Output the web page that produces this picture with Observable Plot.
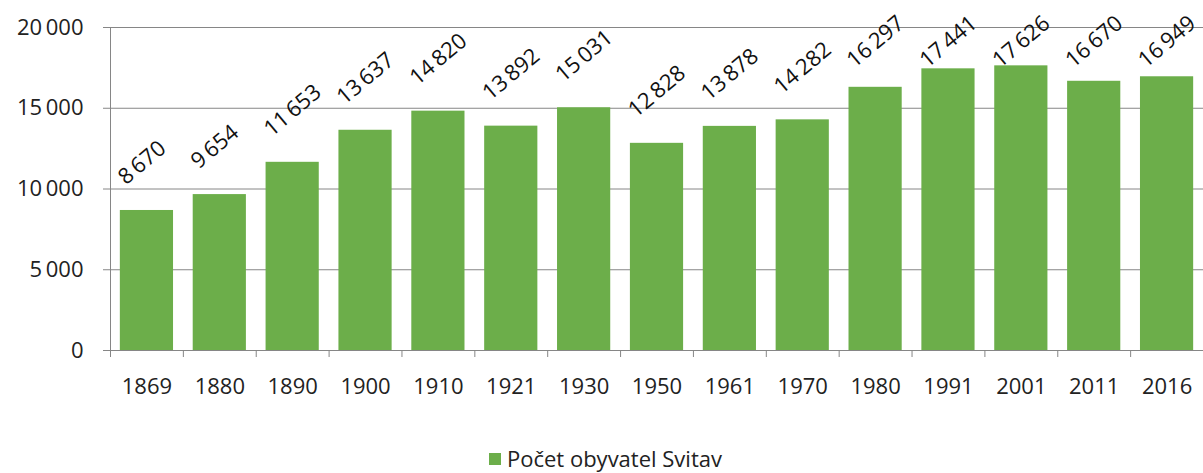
<!DOCTYPE html>
<html>
<head>
<meta charset="utf-8">
<script src="https://cdn.jsdelivr.net/npm/d3@7"></script>
<script src="https://cdn.jsdelivr.net/npm/@observablehq/plot@0.6"></script>
<style>
  body { margin: 0; background: #fff; font-family: "Open Sans", sans-serif; }
  #chart svg { display: block; }
  #legend { display: flex; justify-content: center; align-items: center; gap: 6px; font-size: 22px; color: #222; height: 43px; padding-top: 6px; margin-left: 8px; }
  #legend .sw { width: 12px; height: 12px; background: #6cae4a; display: inline-block; margin-top: 2px; }
</style>
</head>
<body>
<div id="chart"></div>
<div id="legend"><span class="sw"></span><span>Počet obyvatel Svitav</span></div>
<script>
const years = ["1869","1880","1890","1900","1910","1921","1930","1950","1961","1970","1980","1991","2001","2011","2016"];
const population = [8670, 9654, 11653, 13637, 14820, 13892, 15031, 12828, 13878, 14282, 16297, 17441, 17626, 16670, 16949];
const yTicks = [0, 5000, 10000, 15000, 20000];
const seriesName = "Počet obyvatel Svitav";

// label anchor: a little above each bar, but kept inside the chart area near the top
const labelGap = 1550;   // in value units
const labelCap = 17460;  // highest label anchor (value units)
const data = years.map((y, i) => ({year: y, value: population[i], labelAt: Math.min(population[i] + labelGap, labelCap)}));
const fmt = d3.formatLocale({decimal: ",", thousands: "\u2009", grouping: [3], currency: ["", ""]}).format(",d");
const axisLine = [{year: years[0], lo: yTicks[0], hi: yTicks[yTicks.length - 1]}];

const W = 1203, H = 430, mL = 110, mR = 0;
const step = (W - mL - mR) / years.length;

const chart = Plot.plot({
  width: W,
  height: H,
  marginLeft: mL,
  marginRight: mR,
  marginTop: 27,
  marginBottom: 80,
  style: {fontFamily: "Open Sans, sans-serif", fontSize: "22px", color: "#222", background: "#fff", overflow: "visible"},
  x: {domain: years, paddingInner: 0.27, paddingOuter: 0.135, round: false, label: null},
  y: {domain: [0, 20000], label: null},
  marks: [
    Plot.ruleY(yTicks, {stroke: "#868686", strokeWidth: 1}),
    Plot.axisY({ticks: yTicks, tickSize: 7, tickPadding: 20, stroke: "#868686", tickFormat: fmt, fill: "#222", fontSize: 22}),
    Plot.axisX({tickSize: 0, tickPadding: 28, fill: "#222", fontSize: 22}),
    Plot.axisX({tickSize: 7, text: null, dx: -step / 2, stroke: "#868686"}),
    Plot.ruleX(axisLine, {x: "year", y1: "lo", y2: "hi", dx: -step / 2, stroke: "#868686"}),
    Plot.barY(data, {x: "year", y: "value", fill: "#6cae4a"}),
    Plot.text(data, {x: "year", y: "labelAt", text: d => fmt(d.value), rotate: -40, textAnchor: "start", lineAnchor: "bottom", dx: -21, fontSize: 22, fill: "#111"})
  ]
});
document.getElementById("chart").appendChild(chart);
</script>
</body>
</html>
